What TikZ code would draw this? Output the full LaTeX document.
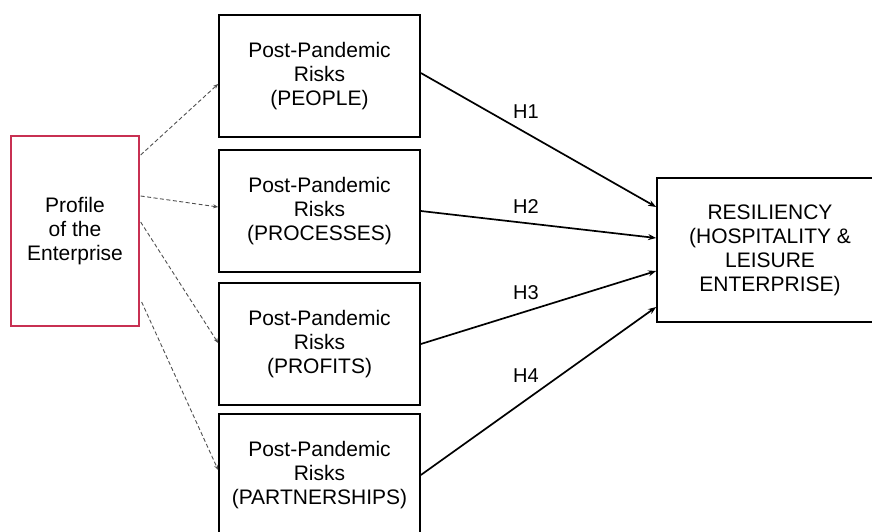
\documentclass[tikz,border=0pt]{standalone}
\usepackage{fontspec}
\setmainfont{Liberation Sans}
\usetikzlibrary{arrows.meta}
\definecolor{profred}{RGB}{200,48,82}
\definecolor{dashgray}{RGB}{80,80,80}
\begin{document}
\begin{tikzpicture}[x=1pt,y=1pt,
  txt/.style={font=\fontsize{21}{24}\selectfont, align=center, inner sep=0pt},
  riskbox/.style={txt, draw=black, line width=1.7pt, minimum width=201pt, minimum height=122pt},
  profbox/.style={txt, draw=profred, line width=1.3pt, minimum width=128pt, minimum height=190pt},
  resbox/.style={txt, draw=black, line width=1.7pt, minimum width=226pt, minimum height=144pt},
  hyp/.style={draw=black, line width=1.7pt, -{Stealth[length=8pt,width=6pt]}},
  dasharrow/.style={draw=dashgray, line width=0.9pt, dash pattern=on 4pt off 2.5pt, -{Stealth[length=5pt,width=4pt]}},
  hlabel/.style={font=\fontsize{20}{22}\selectfont, inner sep=0pt}
]
\useasboundingbox (0,0) rectangle (872,-532);
\node[profbox] (prof) at (75,-231) {Profile\\of the\\Enterprise};
\node[riskbox] (b1) at (319.5,-76) {Post-Pandemic\\Risks\\(PEOPLE)};
\node[riskbox] (b2) at (319.5,-211) {Post-Pandemic\\Risks\\(PROCESSES)};
\node[riskbox] (b3) at (319.5,-344) {Post-Pandemic\\Risks\\(PROFITS)};
\node[riskbox] (b4) at (319.5,-475) {Post-Pandemic\\Risks\\(PARTNERSHIPS)};
\node[resbox] (res) at (770,-250) {RESILIENCY\\(HOSPITALITY \&\\LEISURE\\ENTERPRISE)};
% hypotheses
\draw[hyp] ([yshift=3pt]b1.east) -- ([yshift=43pt]res.west);
\draw[hyp] (b2.east) -- ([yshift=12pt]res.west);
\draw[hyp] (b3.east) -- ([yshift=-21pt]res.west);
\draw[hyp] (b4.east) -- ([yshift=-57pt]res.west);
\node[hlabel] (h1) at (526,-112) {H1};
\node[hlabel] (h2) at (526,-207) {H2};
\node[hlabel] (h3) at (526,-293) {H3};
\node[hlabel] (h4) at (526,-376) {H4};
% dashed links
\draw[dasharrow] ([yshift=76pt,xshift=1pt]prof.east) -- ([yshift=-8pt]b1.west);
\draw[dasharrow] ([yshift=35pt,xshift=1pt]prof.east) -- ([yshift=4pt]b2.west);
\draw[dasharrow] ([yshift=9pt,xshift=1pt]prof.east) -- ([yshift=1pt]b3.west);
\draw[dasharrow] ([yshift=-71pt,xshift=2pt]prof.east) -- ([yshift=5pt]b4.west);
\end{tikzpicture}
\end{document}
